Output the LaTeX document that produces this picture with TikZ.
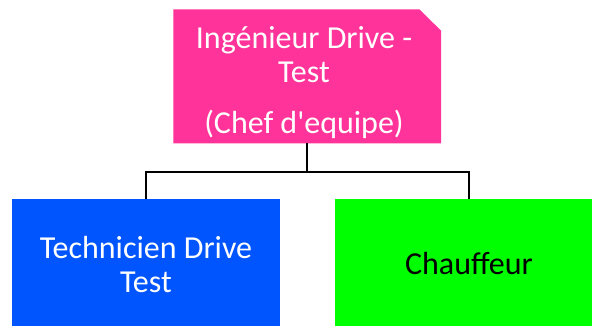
\documentclass[tikz,border=0pt]{standalone}
\usepackage{fontspec}
\setmainfont{Carlito}
\usetikzlibrary{backgrounds}
\definecolor{chefpink}{HTML}{FF3399}
\definecolor{techblue}{HTML}{0055FF}
\definecolor{chaufgreen}{HTML}{00FF00}
\tikzset{
  boxshape/.style={minimum width=268pt, minimum height=134pt, inner sep=0pt, outer sep=0pt, align=center,
    font=\fontsize{32}{34}\selectfont},
  lbl/.style={inner sep=0pt, align=center, font=\fontsize{32}{34.5}\selectfont},
  conn/.style={draw=black, line width=2pt},
}
\begin{document}
\begin{tikzpicture}[x=1pt,y=-1pt]
\useasboundingbox (0,0) rectangle (592,325);
\node[boxshape, minimum width=267.7pt] (chef) at (307.2,76.3) {};
\fill[chefpink] (chef.south west) -- (chef.north west) -- ([xshift=-21.7pt]chef.north east)
  -- ([yshift=-21.4pt]chef.north east) -- (chef.south east) -- cycle;
\node[lbl, text=white] (cheftext) at (304,82.5) {Ingénieur Drive -\\Test\\[16pt](Chef d\textquotesingle equipe)};
\node[boxshape, fill=techblue, text=white, text depth=4pt] (tech) at (146,266) {Technicien Drive\\Test};
\node[boxshape, fill=chaufgreen, text=black, text depth=6pt] (chauf) at (469,266) {Chauffeur};
\draw[conn] (chef.south) -- ++(0,28.5) -| (tech.north);
\draw[conn] (chef.south) -- ++(0,28.5) -| (chauf.north);
\end{tikzpicture}
\end{document}
